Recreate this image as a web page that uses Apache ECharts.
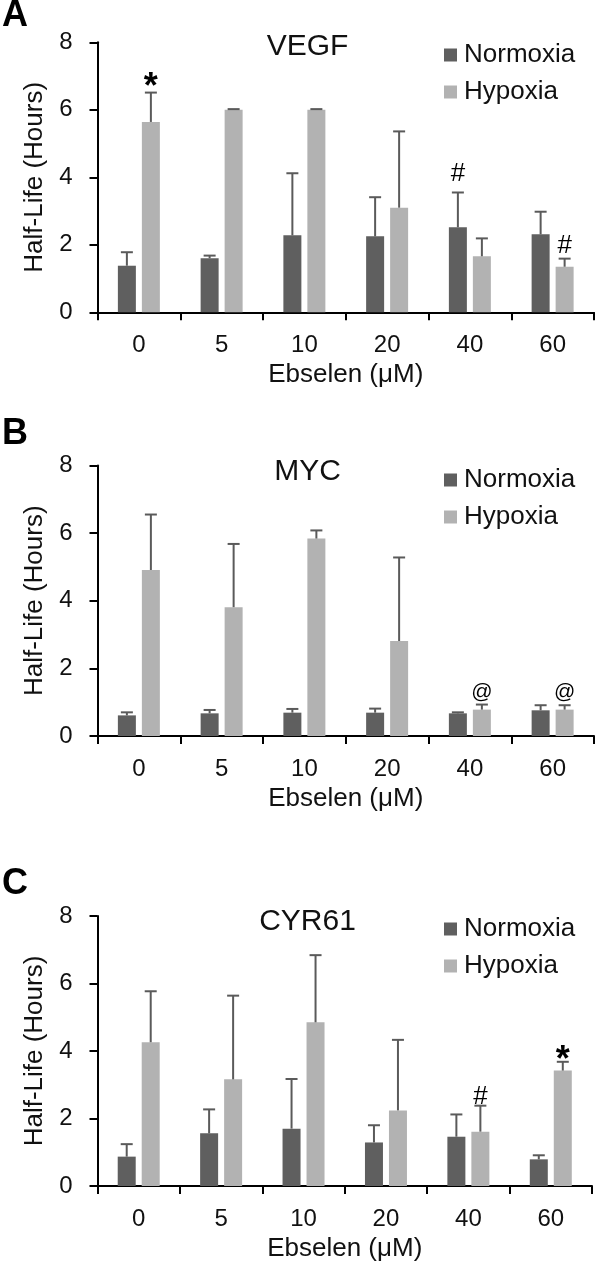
<!DOCTYPE html>
<html>
<head>
<meta charset="utf-8">
<script src="https://cdn.jsdelivr.net/npm/echarts@6/dist/echarts.min.js"></script>
<style>
html,body{margin:0;padding:0;background:#fff;}
#chart{width:597px;height:1263px;}
</style>
</head>
<body>
<div id="chart"></div>
<script>
// ---- data ----
var categories = ['0', '5', '10', '20', '40', '60'];
var yTicks = [0, 2, 4, 6, 8];
var seriesNames = ['Normoxia', 'Hypoxia'];

var vegfNormoxia = [1.38, 1.60, 2.28, 2.25, 2.52, 2.31];
var vegfNormoxiaSD = [0.40, 0.08, 1.84, 1.16, 1.03, 0.67];
var vegfHypoxia = [5.64, 6.00, 6.00, 3.10, 1.66, 1.35];
var vegfHypoxiaSD = [0.87, 0.02, 0.02, 2.26, 0.53, 0.24];

var mycNormoxia = [0.61, 0.67, 0.69, 0.69, 0.67, 0.76];
var mycNormoxiaSD = [0.09, 0.10, 0.11, 0.12, 0.03, 0.15];
var mycHypoxia = [4.91, 3.81, 5.84, 2.81, 0.78, 0.78];
var mycHypoxiaSD = [1.64, 1.87, 0.24, 2.47, 0.15, 0.13];

var cyrNormoxia = [0.87, 1.56, 1.70, 1.29, 1.46, 0.79];
var cyrNormoxiaSD = [0.37, 0.71, 1.47, 0.51, 0.66, 0.12];
var cyrHypoxia = [4.26, 3.16, 4.85, 2.24, 1.61, 3.42];
var cyrHypoxiaSD = [1.51, 2.48, 1.99, 2.09, 0.77, 0.26];

// annotations: [categoryIndex, seriesIndex(0=Normoxia,1=Hypoxia), yValue, text]
var vegfMarks = [[0, 1, 6.92, '*'], [4, 0, 4.11, '#'], [5, 1, 1.97, '#']];
var mycMarks = [[4, 1, 1.31, '@'], [5, 1, 1.31, '@']];
var cyrMarks = [[4, 1, 2.65, '#'], [5, 1, 3.98, '*']];

var panelTitles = ['VEGF', 'MYC', 'CYR61'];
var panelLetters = ['A', 'B', 'C'];
var xAxisTitle = 'Ebselen (\u03bcM)';
var yAxisTitle = 'Half-Life (Hours)';

// ---- style ----
var FONT = 'Liberation Sans, Arial, sans-serif';
var C_NORM = '#5f5f5f';
var C_HYP = '#b2b2b2';
var C_ERR = '#5a5a5a';
var BAR_W = 18;
var BAR_OFF = 12;

var panels = [
  {norm: vegfNormoxia, normSD: vegfNormoxiaSD, hyp: vegfHypoxia, hypSD: vegfHypoxiaSD, marks: vegfMarks,
   grid: {left: 97.5, top: 42.3, width: 496.5, height: 270}, titleY: 47, legendTop: 37, letterY: 16},
  {norm: mycNormoxia, normSD: mycNormoxiaSD, hyp: mycHypoxia, hypSD: mycHypoxiaSD, marks: mycMarks,
   grid: {left: 97.5, top: 465.5, width: 496.5, height: 270.5}, titleY: 472, legendTop: 462, letterY: 434},
  {norm: cyrNormoxia, normSD: cyrNormoxiaSD, hyp: cyrHypoxia, hypSD: cyrHypoxiaSD, marks: cyrMarks,
   grid: {left: 97.5, top: 916, width: 494.5, height: 270}, titleY: 922, legendTop: 911, letterY: 884}
];

function errRender(sign) {
  return function (params, api) {
    var x = api.value(0), m = api.value(1), e = api.value(2);
    var base = api.coord([x, m]);
    var top = api.coord([x, m + e]);
    var cx = base[0] + sign * BAR_OFF;
    var st = {stroke: C_ERR, lineWidth: 2};
    return {type: 'group', children: [
      {type: 'line', shape: {x1: cx, y1: base[1], x2: cx, y2: top[1]}, style: st},
      {type: 'line', shape: {x1: cx - 6, y1: top[1], x2: cx + 6, y2: top[1]}, style: st}
    ]};
  };
}

function markRender(params, api) {
  var x = api.value(0), s = api.value(1), y = api.value(2);
  var p = api.coord([x, y]);
  var txt = api.value(3);
  var sign = s === 0 ? -1 : 1;
  var fs = txt === '*' ? 36 : (txt === '@' ? 21 : 26);
  var dy = txt === '*' ? 9 : 0;
  return {type: 'text', x: p[0] + sign * BAR_OFF, y: p[1] + dy,
    style: {text: txt, fontSize: fs, fontWeight: txt === '*' ? 'bold' : 'normal', fontFamily: FONT,
      fill: '#000', align: 'center', verticalAlign: 'middle'}};
}

var option = {
  animation: false,
  backgroundColor: '#fff',
  grid: [], xAxis: [], yAxis: [], series: [], legend: [], graphic: []
};

panels.forEach(function (p, i) {
  option.grid.push(p.grid);
  option.xAxis.push({
    type: 'category', gridIndex: i, data: categories,
    axisLine: {lineStyle: {color: '#000', width: 2}},
    axisTick: {show: true, length: 8, lineStyle: {color: '#000', width: 2}},
    axisLabel: {fontSize: 24, fontFamily: FONT, color: '#111', margin: 21},
    name: xAxisTitle, nameLocation: 'middle', nameGap: 50,
    nameTextStyle: {fontSize: 26, fontFamily: FONT, color: '#111'}
  });
  option.yAxis.push({
    type: 'value', gridIndex: i, min: yTicks[0], max: yTicks[yTicks.length - 1], interval: yTicks[1] - yTicks[0],
    axisLine: {show: true, lineStyle: {color: '#000', width: 2}},
    axisTick: {show: true, length: 8, lineStyle: {color: '#000', width: 2}},
    splitLine: {show: false},
    axisLabel: {fontSize: 24, fontFamily: FONT, color: '#111', margin: 25},
    name: yAxisTitle, nameLocation: 'middle', nameGap: 40,
    nameTextStyle: {fontSize: 26, fontFamily: FONT, color: '#111'}
  });
  option.series.push({
    type: 'bar', name: seriesNames[0], xAxisIndex: i, yAxisIndex: i, data: p.norm,
    barWidth: BAR_W, barGap: '33.3%', itemStyle: {color: C_NORM}
  });
  option.series.push({
    type: 'bar', name: seriesNames[1], xAxisIndex: i, yAxisIndex: i, data: p.hyp,
    barWidth: BAR_W, barGap: '33.3%', itemStyle: {color: C_HYP}
  });
  option.series.push({
    type: 'custom', xAxisIndex: i, yAxisIndex: i, renderItem: errRender(-1), z: 5,
    data: p.norm.map(function (v, k) { return [k, v, p.normSD[k]]; })
  });
  option.series.push({
    type: 'custom', xAxisIndex: i, yAxisIndex: i, renderItem: errRender(1), z: 5,
    data: p.hyp.map(function (v, k) { return [k, v, p.hypSD[k]]; })
  });
  option.series.push({
    type: 'custom', xAxisIndex: i, yAxisIndex: i, renderItem: markRender, z: 6,
    data: p.marks.map(function (m) { return [m[0], m[1], m[2], m[3]]; })
  });
  option.legend.push({
    data: seriesNames, orient: 'vertical', left: 439, top: p.legendTop,
    itemWidth: 13, itemHeight: 13, itemGap: 11, icon: 'rect', selectedMode: false,
    textStyle: {fontSize: 26, fontFamily: FONT, color: '#111', padding: [0, 0, 0, 2]}
  });
  option.graphic.push({
    type: 'text', x: 307.5, y: p.titleY,
    style: {text: panelTitles[i], fontSize: 30, fontFamily: FONT, fill: '#111', align: 'center', verticalAlign: 'middle'}
  });
  option.graphic.push({
    type: 'text', x: 2, y: p.letterY,
    style: {text: panelLetters[i], fontSize: 36, fontWeight: 'bold', fontFamily: FONT, fill: '#000', align: 'left', verticalAlign: 'middle'}
  });
});

var chart = echarts.init(document.getElementById('chart'), null, {renderer: 'canvas'});
chart.setOption(option);
</script>
</body>
</html>
